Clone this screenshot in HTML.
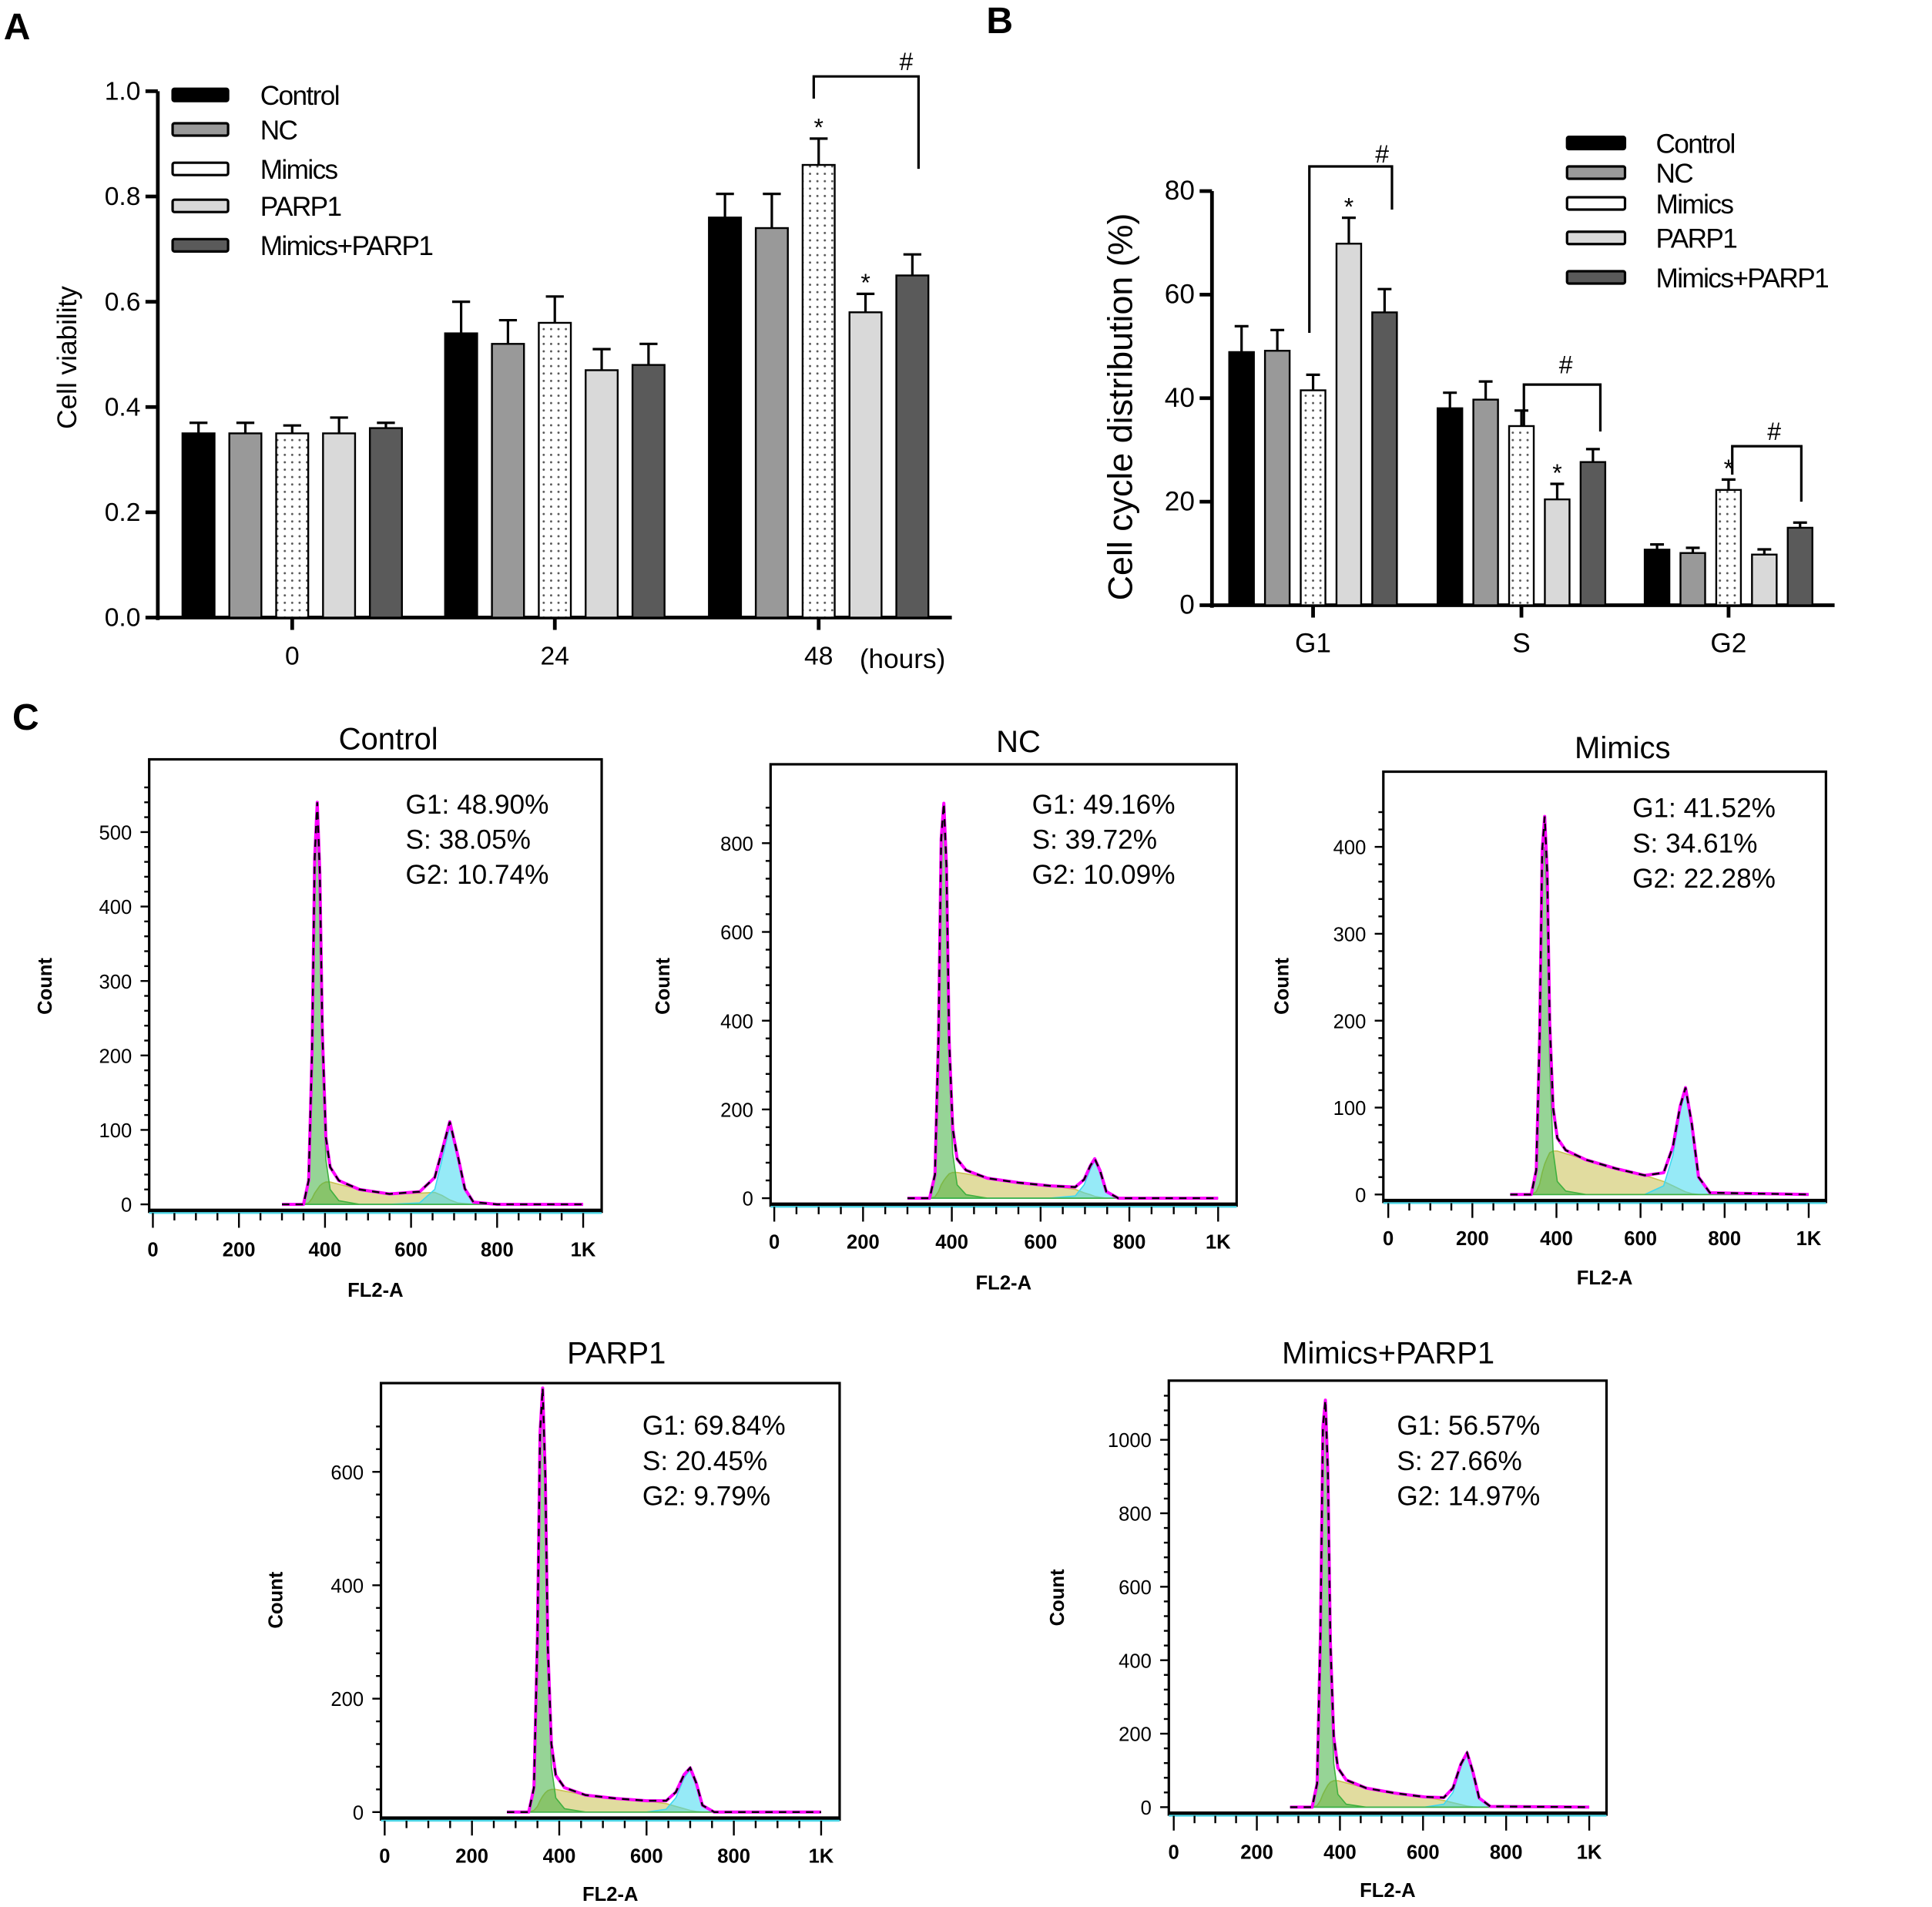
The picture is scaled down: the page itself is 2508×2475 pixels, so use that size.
<!DOCTYPE html>
<html><head><meta charset="utf-8">
<style>
html,body{margin:0;padding:0;background:#fff;}
svg{display:block;font-family:"Liberation Sans",Arial,sans-serif;}
</style></head>
<body>
<svg id="fig" width="2508" height="2475" viewBox="0 0 1567 1547" preserveAspectRatio="none" xmlns="http://www.w3.org/2000/svg">
<defs>
<pattern id="dots" width="6" height="6" patternUnits="userSpaceOnUse"><rect width="6" height="6" fill="#fff"/><circle cx="3" cy="3" r="0.9" fill="#555"/></pattern>
</defs>
<text x="3" y="32" font-size="30" font-weight="bold">A</text>
<text x="800" y="27" font-size="30" font-weight="bold">B</text>
<text x="10" y="592" font-size="30" font-weight="bold">C</text>
<g id="pa"></g>
<g id="pb"></g>
<g id="pc"></g>
</svg>
<script>
// ---------- Panel A data ----------
const aGroups = ["0","24","48"];
const seriesNames = ["Control","NC","Mimics","PARP1","Mimics+PARP1"];
const aControl = [0.35,0.54,0.76];
const aNC = [0.35,0.52,0.74];
const aMimics = [0.35,0.56,0.86];
const aPARP1 = [0.35,0.47,0.58];
const aMP = [0.36,0.48,0.65];
const aErrControl = [0.02,0.06,0.045];
const aErrNC = [0.02,0.045,0.065];
const aErrMimics = [0.015,0.05,0.05];
const aErrPARP1 = [0.03,0.04,0.035];
const aErrMP = [0.01,0.04,0.04];
const aTicks = ["0.0","0.2","0.4","0.6","0.8","1.0"];
// ---------- Panel B data ----------
const bGroups = ["G1","S","G2"];
const bControl = [48.90,38.05,10.74];
const bNC = [49.16,39.72,10.09];
const bMimics = [41.52,34.61,22.28];
const bPARP1 = [69.84,20.45,9.79];
const bMP = [56.57,27.66,14.97];
const bErrControl = [5,3,1];
const bErrNC = [4,3.5,1];
const bErrMimics = [3,3,2];
const bErrPARP1 = [5,3,1];
const bErrMP = [4.5,2.5,1];
const bTicks = ["0","20","40","60","80"];
// ---------- Panel C data ----------
const hNames = ["Control","NC","Mimics","PARP1","Mimics+PARP1"];
const hG1Text = ["48.90%","49.16%","41.52%","69.84%","56.57%"];
const hSText = ["38.05%","39.72%","34.61%","20.45%","27.66%"];
const hG2Text = ["10.74%","10.09%","22.28%","9.79%","14.97%"];
const chControl = [300,350,362,370,376,382,388,394,402,412,432,480,550,620,655,672,690,708,725,745,800,1000];
const g1Control = [0,0,30,200,450,520,420,200,60,20,5,0,0,0,0,0,0,0,0,0,0,0];
const sControl  = [0,0,2,8,15,20,25,28,30,30,27,20,14,15,16,12,6,2,1,0,0,0];
const g2Control = [0,0,0,0,0,0,0,0,0,0,0,0,0,2,20,60,105,65,20,3,0,0];
const chNC = [300,350,362,370,376,382,388,394,402,412,432,480,550,620,678,698,712,722,734,748,775,1000];
const g1NC = [0,0,50,350,780,850,700,300,100,30,8,0,0,0,0,0,0,0,0,0,0,0];
const sNC  = [0,0,3,15,30,40,48,55,58,58,55,45,35,28,20,12,8,4,2,0,0,0];
const g2NC = [0,0,0,0,0,0,0,0,0,0,0,0,0,0,5,30,65,85,60,15,0,0];
const chMimics = [290,340,352,360,366,372,378,384,392,402,422,470,540,610,655,677,694,707,722,738,765,1000];
const g1Mimics = [0,0,25,170,370,400,330,150,50,15,4,0,0,0,0,0,0,0,0,0,0,0];
const sMimics  = [0,0,3,12,25,35,42,48,50,50,47,40,30,22,15,10,6,3,1,0,0,0];
const g2Mimics = [0,0,0,0,0,0,0,0,0,0,0,0,0,0,10,45,95,120,80,20,2,0];
const chPARP1 = [280,330,342,350,356,362,368,374,382,392,412,460,530,600,645,667,686,700,714,728,755,1000];
const g1PARP1 = [0,0,40,300,650,720,560,250,80,25,6,0,0,0,0,0,0,0,0,0,0,0];
const sPARP1  = [0,0,3,10,20,28,34,38,40,40,37,30,24,20,15,10,6,3,1,0,0,0];
const g2PARP1 = [0,0,0,0,0,0,0,0,0,0,0,0,0,0,5,25,60,75,50,12,0,0];
const chMP = [280,333,345,353,359,365,371,377,385,395,415,463,533,603,650,672,691,706,720,735,762,1000];
const g1MP = [0,0,60,450,1000,1060,850,380,120,35,8,0,0,0,0,0,0,0,0,0,0,0];
const sMP  = [0,0,4,18,35,48,60,68,72,72,66,52,38,28,18,12,7,3,1,0,0,0];
const g2MP = [0,0,0,0,0,0,0,0,0,0,0,0,0,0,8,40,110,145,95,25,2,0];
const hYTicksControl = [0,100,200,300,400,500];
const hYTicksNC = [0,200,400,600,800];
const hYTicksMimics = [0,100,200,300,400];
const hYTicksPARP1 = [0,200,400,600];
const hYTicksMP = [0,200,400,600,800,1000];
const hXTicks = ["0","200","400","600","800","1K"];

const NS="http://www.w3.org/2000/svg";
function mk(parent,tag,attrs,text){const e=document.createElementNS(NS,tag);for(const k in attrs)e.setAttribute(k,attrs[k]);if(text!==undefined)e.textContent=text;parent.appendChild(e);return e;}
const fills=["#000","#999","url(#dots)","#d9d9d9","#5a5a5a"];
const legFills=["#000","#999","#fff","#d9d9d9","#5a5a5a"];

function barChart(g,o){
  const y=v=>o.y0-(v-o.vmin)/(o.vmax-o.vmin)*(o.y0-o.y1);
  const x=(gi,si)=>o.gx[gi]+(si-2)*o.step;
  const ya=mk(g,'line',{x1:o.ax,y1:o.y1,x2:o.ax,y2:o.y0+2,stroke:'#000','stroke-width':3});
  
  const xa=mk(g,'line',{x1:o.ax-2,y1:o.y0,x2:o.xend,y2:o.y0,stroke:'#000','stroke-width':3});
  
  o.ticks.forEach(t=>{const v=parseFloat(t);const yy=y(v);
    mk(g,'line',{x1:o.ax-10,y1:yy,x2:o.ax,y2:yy,stroke:'#000','stroke-width':3});
    const tl=mk(g,'text',{x:o.ax-14,y:yy+7,'font-size':o.fs,'text-anchor':'end'},t);
    });
  o.groups.forEach((gn,gi)=>{
    mk(g,'line',{x1:o.gx[gi],y1:o.y0,x2:o.gx[gi],y2:o.y0+10,stroke:'#000','stroke-width':3});
    const tl=mk(g,'text',{x:o.gx[gi],y:o.y0+o.lab,'font-size':o.fs,'text-anchor':'middle'},gn);
    
    o.vals.forEach((arr,si)=>{
      const v=arr[gi],e=o.errs[si][gi],cx=x(gi,si);
      mk(g,'line',{x1:cx,y1:y(v),x2:cx,y2:y(v+e),stroke:'#000','stroke-width':2});
      mk(g,'line',{x1:cx-o.bw*0.28,y1:y(v+e),x2:cx+o.bw*0.28,y2:y(v+e),stroke:'#000','stroke-width':2});
      const r=mk(g,'rect',{x:cx-o.bw/2,y:y(v),width:o.bw,height:o.y0-y(v),fill:fills[si],stroke:'#000','stroke-width':1.5});
      
      
    });
  });
  seriesNames.forEach((n,i)=>{
    const ly=o.legY[i];
    const lr=mk(g,'rect',{x:o.legX,y:ly-5,width:o.legW,height:10,fill:legFills[i],stroke:'#000','stroke-width':2,rx:1.5});
    
    const lt=mk(g,'text',{x:o.legTX,y:ly+8,'font-size':o.lfs,'letter-spacing':'-1'},n);
    
  });
  return {x,y};
}
const ga=document.getElementById('pa');
const A=barChart(ga,{ax:128,y0:501,y1:74,vmin:0,vmax:1,xend:772,gx:[237,450,664],step:38,bw:26,
  groups:aGroups,ticks:aTicks,fs:21,lab:38,
  vals:[aControl,aNC,aMimics,aPARP1,aMP],errs:[aErrControl,aErrNC,aErrMimics,aErrPARP1,aErrMP],
  legX:140,legW:45,legTX:211,legY:[77,105,137,167,199],lfs:22});
let t=mk(ga,'text',{x:62,y:290,'font-size':22,'text-anchor':'middle',transform:'rotate(-90 62 290)'},'Cell viability');

t=mk(ga,'text',{x:732,y:542,'font-size':22,'text-anchor':'middle'},'(hours)');

mk(ga,'text',{x:A.x(2,2),y:A.y(aMimics[2]+aErrMimics[2])-2,'font-size':20,'text-anchor':'middle'},'*');
mk(ga,'text',{x:A.x(2,3),y:A.y(aPARP1[2]+aErrPARP1[2])-2,'font-size':20,'text-anchor':'middle'},'*');
mk(ga,'path',{d:`M${A.x(2,2)-4},80 V62 H745 V137`,fill:'none',stroke:'#000','stroke-width':2});
mk(ga,'text',{x:735,y:57,'font-size':20,'text-anchor':'middle'},'#');
const gb=document.getElementById('pb');
const B=barChart(gb,{ax:983,y0:491,y1:155,vmin:0,vmax:80,xend:1488,gx:[1065,1234,1402],step:29,bw:20,
  groups:bGroups,ticks:bTicks,fs:22,lab:38,
  vals:[bControl,bNC,bMimics,bPARP1,bMP],errs:[bErrControl,bErrNC,bErrMimics,bErrPARP1,bErrMP],
  legX:1271,legW:47,legTX:1343,legY:[116,140,165,193,225],lfs:22});
t=mk(gb,'text',{x:918,y:330,'font-size':28,'text-anchor':'middle',transform:'rotate(-90 918 330)'},'Cell cycle distribution (%)');

mk(gb,'text',{x:B.x(0,3),y:B.y(bPARP1[0]+bErrPARP1[0])-2,'font-size':20,'text-anchor':'middle'},'*');
mk(gb,'text',{x:B.x(1,3),y:B.y(bPARP1[1]+bErrPARP1[1])-2,'font-size':20,'text-anchor':'middle'},'*');
mk(gb,'text',{x:B.x(2,2),y:B.y(bMimics[2]+bErrMimics[2])-2,'font-size':20,'text-anchor':'middle'},'*');
mk(gb,'path',{d:'M1062,270 V135 H1129 V170',fill:'none',stroke:'#000','stroke-width':2});
mk(gb,'text',{x:1121,y:132,'font-size':20,'text-anchor':'middle'},'#');
mk(gb,'path',{d:'M1236,345 V312 H1298 V350',fill:'none',stroke:'#000','stroke-width':2});
mk(gb,'text',{x:1270,y:303,'font-size':20,'text-anchor':'middle'},'#');
mk(gb,'path',{d:'M1405,385 V362 H1461 V407',fill:'none',stroke:'#000','stroke-width':2});
mk(gb,'text',{x:1439,y:357,'font-size':20,'text-anchor':'middle'},'#');

const gc=document.getElementById('pc');
const hLayouts=[
 {bx:121,by:616,bx2:488,y0:977,ymax:500,ytop:675,x0:124,x1k:473,tx:315,ty:608,lab:1019,fl:1052,cx:42,cy:800,txx:329,txy:660},
 {bx:625,by:620,bx2:1003,y0:972,ymax:800,ytop:684,x0:628,x1k:988,tx:826,ty:610,lab:1013,fl:1046,cx:543,cy:800,txx:837,txy:660},
 {bx:1122,by:626,bx2:1481,y0:969,ymax:400,ytop:687,x0:1126,x1k:1467,tx:1316,ty:615,lab:1010,fl:1042,cx:1045,cy:800,txx:1324,txy:663},
 {bx:309,by:1122,bx2:681,y0:1470,ymax:600,ytop:1194,x0:312,x1k:666,tx:500,ty:1106,lab:1511,fl:1542,cx:229,cy:1298,txx:521,txy:1164},
 {bx:948,by:1120,bx2:1303,y0:1466,ymax:1000,ytop:1168,x0:952,x1k:1289,tx:1126,ty:1106,lab:1508,fl:1539,cx:863,cy:1296,txx:1133,txy:1164}];
const hData=[[chControl,g1Control,sControl,g2Control,hYTicksControl],[chNC,g1NC,sNC,g2NC,hYTicksNC],
 [chMimics,g1Mimics,sMimics,g2Mimics,hYTicksMimics],[chPARP1,g1PARP1,sPARP1,g2PARP1,hYTicksPARP1],[chMP,g1MP,sMP,g2MP,hYTicksMP]];
hLayouts.forEach((L,i)=>{
  const g=mk(gc,'g',{});
  
  
  const [ch,g1,s,g2,yt]=hData[i];
  const X=c=>L.x0+c/1000*(L.x1k-L.x0);
  const Y=v=>L.y0-v/L.ymax*(L.y0-L.ytop);
  mk(g,'rect',{x:L.bx,y:L.by,width:L.bx2-L.bx,height:L.y0+6-L.by,fill:'#fff',stroke:'#000','stroke-width':2});
  const area=(arr,col)=>{let d=`M${X(ch[0])},${Y(0)}`;ch.forEach((c,k)=>d+=` L${X(c)},${Y(arr[k])}`);d+=` L${X(ch[ch.length-1])},${Y(0)} Z`;
    mk(g,'path',{d,fill:col,'fill-opacity':0.55,stroke:col,'stroke-width':1});};
  area(s,'#c8c050');area(g2,'#40d8f0');area(g1,'#40b040');
  const tot=ch.map((c,k)=>g1[k]+s[k]+g2[k]);
  let d='';ch.forEach((c,k)=>d+=(k?' L':'M')+X(c)+','+Y(tot[k]));
  mk(g,'path',{d,fill:'none',stroke:'#ff00ff','stroke-width':2.5,'stroke-linejoin':'round'});
  mk(g,'path',{d,fill:'none',stroke:'#000','stroke-width':1.5,'stroke-dasharray':'6 5'});
  mk(g,'line',{x1:L.bx,y1:L.y0+5,x2:L.bx2,y2:L.y0+5,stroke:'#000','stroke-width':3});
  mk(g,'line',{x1:L.bx,y1:L.y0+7,x2:L.bx2,y2:L.y0+7,stroke:'#4fd8e8','stroke-width':1.5});
  const step=yt[1]-yt[0];
  for(let v=0;v<=L.ymax*1.15&&Y(v)>L.by;v+=step/5){const major=Math.abs(v/step-Math.round(v/step))<1e-6;
    mk(g,'line',{x1:L.bx-(major?7:4),y1:Y(v),x2:L.bx,y2:Y(v),stroke:'#000','stroke-width':1.5});}
  yt.forEach(v=>{const tl=mk(g,'text',{x:L.bx-14,y:Y(v)+6,'font-size':16,'text-anchor':'end'},String(v));
    });
  for(let c=0;c<=1000;c+=50){const major=c%200===0;
    mk(g,'line',{x1:X(c),y1:L.y0+7,x2:X(c),y2:L.y0+(major?19:13),stroke:'#000','stroke-width':1.5});}
  hXTicks.forEach((lb,k)=>{const tl=mk(g,'text',{x:X(k*200),y:L.lab,'font-size':16,'font-weight':'bold','text-anchor':'middle'},lb);
    });
  let e=mk(g,'text',{x:(L.bx+L.bx2)/2,y:L.fl,'font-size':16,'font-weight':'bold','text-anchor':'middle'},'FL2-A');
  
  e=mk(g,'text',{x:L.cx,y:L.cy,'font-size':16,'font-weight':'bold','text-anchor':'middle',transform:`rotate(-90 ${L.cx} ${L.cy})`},'Count');
  
  e=mk(g,'text',{x:L.tx,y:L.ty,'font-size':25,'text-anchor':'middle'},hNames[i]);
  
  [['G1:  ',hG1Text[i]],['S: ',hSText[i]],['G2:  ',hG2Text[i]]].forEach((p,k)=>{
    const st=mk(g,'text',{x:L.txx,y:L.txy+k*28.5,'font-size':22,'xml:space':'preserve'},p[0]+p[1]);
    });
});
</script>
</body></html>
